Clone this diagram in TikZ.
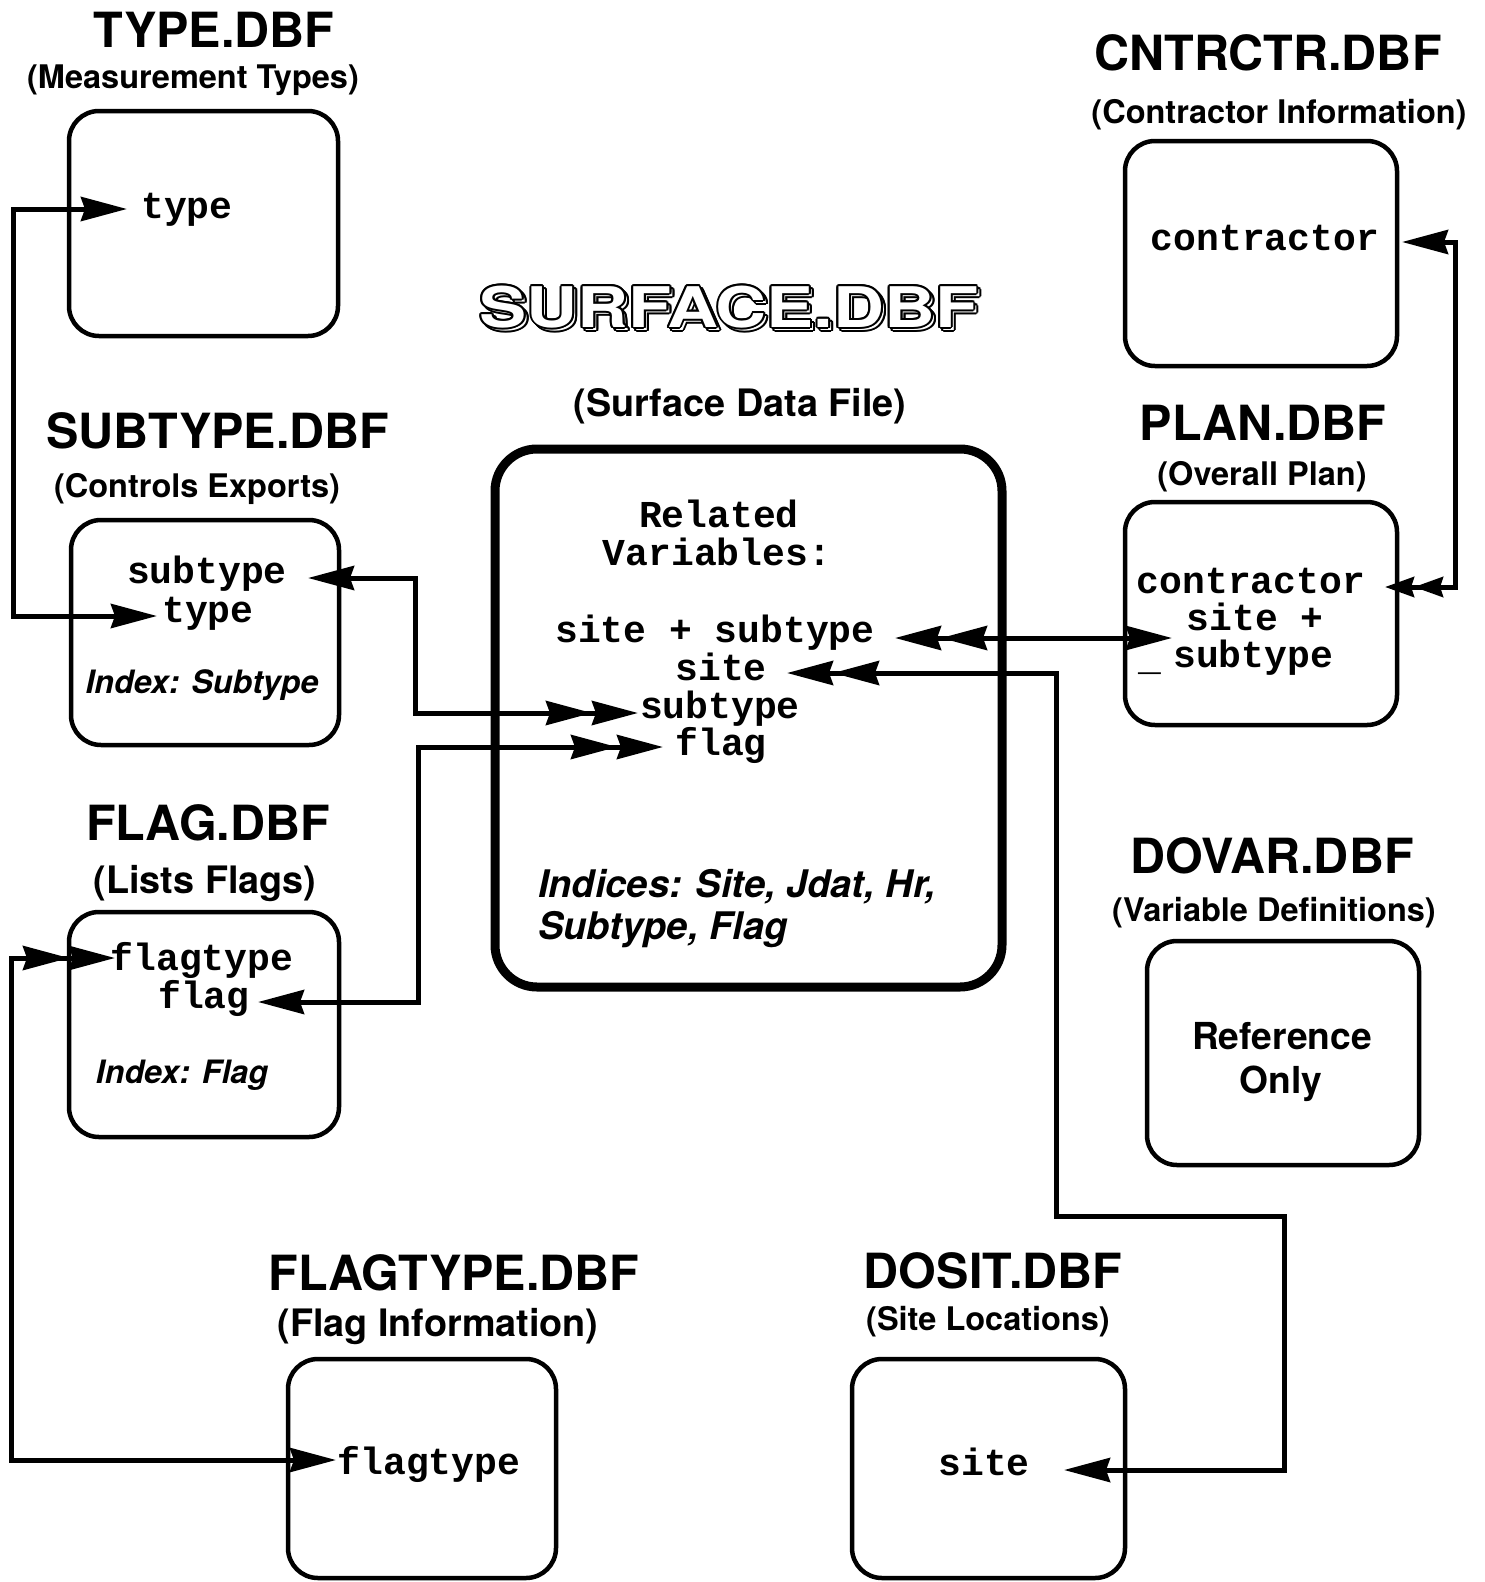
\documentclass[tikz,border=0pt]{standalone}
\usepackage{fontspec}
\usetikzlibrary{arrows.meta}
\newfontfamily\hv{TeX Gyre Heros}
\newfontfamily\hvw[FakeStretch=1.26]{TeX Gyre Heros}
\newfontfamily\cour{Liberation Mono}
\tikzset{
  hd/.tip={Stealth[length=46pt,width=24pt,inset=4pt]},
  hs/.tip={Stealth[length=29pt,width=20pt,inset=3pt]},
  lbl/.style={anchor=base, inner sep=0pt},
  ttl/.style={lbl, font=\hv\bfseries\fontsize{48.5}{50}\selectfont},
  subt/.style={lbl, font=\hv\bfseries\fontsize{32.5}{34}\selectfont},
  subL/.style={lbl, font=\hv\bfseries\fontsize{37.8}{40}\selectfont},
  mono/.style={lbl, font=\cour\bfseries\fontsize{38}{38}\selectfont},
  idx/.style={lbl, font=\hv\bfseries\itshape\fontsize{32.2}{34}\selectfont},
  idxL/.style={lbl, font=\hv\bfseries\itshape\fontsize{38}{42}\selectfont},
  refL/.style={lbl, font=\hv\bfseries\fontsize{37.2}{43}\selectfont},
  sfc/.style={lbl, font=\hvw\bfseries\fontsize{56}{58}\selectfont},
  box/.style={draw, line width=4.5pt, rounded corners=30pt, inner sep=0pt},
  bigbox/.style={draw, line width=9pt, rounded corners=42pt, inner sep=0pt},
  conn/.style={line width=5pt},
}
\begin{document}
\begin{tikzpicture}[x=1pt,y=-1pt]
\fill[white] (0,0) rectangle (1484,1582);
\useasboundingbox (0,0) rectangle (1484,1582);

% ---------- TYPE.DBF
\node[ttl] (typeT) at (214,47) {TYPE.DBF};
\node[subt] (typeS) at (193,88) {(Measurement Types)};
\node[box, minimum width=269, minimum height=225] (typeB) at (203.5,223.5) {};
\node[mono] (typeV) at (187,218) {type};

% ---------- SUBTYPE.DBF
\node[ttl] (subT) at (218,448) {SUBTYPE.DBF};
\node[subt] (subS) at (197,497) {(Controls Exports)};
\node[box, minimum width=268, minimum height=225] (subB) at (205,632.5) {};
\node[mono] (subV1) at (207,583) {subtype};
\node[mono] (subV2) at (208,622) {type};
\node[idx] (subI) at (202,693) {Index: Subtype};

% ---------- FLAG.DBF
\node[ttl] (flagT) at (208,840) {FLAG.DBF};
\node[subL] (flagS) at (205,893) {(Lists Flags)};
\node[box, minimum width=270, minimum height=225] (flagB) at (204,1024.5) {};
\node[mono] (flagV1) at (202,970) {flagtype};
\node[mono] (flagV2) at (204,1008) {flag};
\node[idx] (flagI) at (182,1083) {Index: Flag};

% ---------- FLAGTYPE.DBF
\node[ttl] (ftT) at (454,1290) {FLAGTYPE.DBF};
\node[subL] (ftS) at (438,1336) {(Flag Information)};
\node[box, minimum width=268, minimum height=219] (ftB) at (422,1468.5) {};
\node[mono] (ftV) at (429,1474) {flagtype};

% ---------- DOSIT.DBF
\node[ttl] (dsT) at (993,1288) {DOSIT.DBF};
\node[subt] (dsS) at (988,1330) {(Site Locations)};
\node[box, minimum width=273, minimum height=219] (dsB) at (988.5,1468.5) {};
\node[mono] (dsV) at (984,1475) {site};

% ---------- DOVAR.DBF
\node[ttl] (dvT) at (1272,873) {DOVAR.DBF};
\node[subt] (dvS) at (1274,921) {(Variable Definitions)};
\node[box, minimum width=272, minimum height=224] (dvB) at (1283,1053) {};
\node[refL] (dvR1) at (1282,1049) {Reference};
\node[refL] (dvR2) at (1281,1093) {Only};

% ---------- CNTRCTR.DBF
\node[ttl] (ctT) at (1268,70) {CNTRCTR.DBF};
\node[subt] (ctS) at (1279,123) {(Contractor Information)};
\node[box, minimum width=272, minimum height=225] (ctB) at (1261,253.5) {};
\node[mono] (ctV) at (1265,250) {contractor};

% ---------- PLAN.DBF
\node[ttl] (plT) at (1263,440) {PLAN.DBF};
\node[subt] (plS) at (1262,485) {(Overall Plan)};
\node[box, minimum width=272, minimum height=223] (plB) at (1261,613.5) {};
\node[mono] (plV1) at (1251,593) {contractor};
\node[mono] (plV2) at (1255,630) {site +};
\node[mono] (plV3) at (1253,667) {subtype};
\node[mono] (plU) at (1150,670) {\_};

% ---------- SURFACE.DBF (outlined letters with a shadow)
\foreach \a [count=\i] in {0,30,...,330} {
  \node[sfc, text=black, xshift={3+2*cos(\a)}, yshift={-3+2*sin(\a)}] (sfcSh\i) at (729,327) {SURFACE.DBF};
}
\node[sfc, text=white, xshift=3, yshift=-3] (sfcShW) at (729,327) {SURFACE.DBF};
\foreach \a [count=\i] in {0,30,...,330} {
  \node[sfc, text=black, xshift={2*cos(\a)}, yshift={2*sin(\a)}] (sfcO\i) at (729,327) {SURFACE.DBF};
}
\node[sfc, text=white] (sfcT) at (729,327) {SURFACE.DBF};
\node[subL] (sfcS) at (740,416) {(Surface Data File)};
\node[bigbox, minimum width=507, minimum height=538] (sfcB) at (748.5,718) {};
\node[mono] (sfV1) at (719,527) {Related};
\node[mono] (sfV2) at (717,565) {Variables:};
\node[mono] (sfV3) at (715,642) {site + subtype};
\node[mono] (sfV4) at (721,680) {site};
\node[mono] (sfV5) at (720,718) {subtype};
\node[mono] (sfV6) at (721,755) {flag};
\node[idxL, anchor=base west] (sfI1) at (538,897) {Indices: Site, Jdat, Hr,};
\node[idxL, anchor=base west] (sfI2) at (538,939) {Subtype, Flag};

% ---------- connectors
% type <-> subtype.type
\coordinate (c1a) at (127,209);
\coordinate (c1b) at (13,209);
\coordinate (c1c) at (13,616);
\coordinate (c1d) at (157,616);
\draw[conn,{hd}-{hd}] (c1a) -- (c1b) -- (c1c) -- (c1d);

% subtype -> surface.subtype
\coordinate (c2a) at (308,578);
\coordinate (c2b) at (415,578);
\coordinate (c2c) at (415,713);
\coordinate (c2d) at (638,713);
\draw[conn,{hd}-{hd[] hd[]}] (c2a) -- (c2b) -- (c2c) -- (c2d);

% flag -> surface.flag
\coordinate (c3a) at (258,1002);
\coordinate (c3b) at (418,1002);
\coordinate (c3c) at (418,747);
\coordinate (c3d) at (663,747);
\draw[conn,{hd}-{hd[] hd[]}] (c3a) -- (c3b) -- (c3c) -- (c3d);

% flagtype -> flag.flagtype
\coordinate (c4a) at (336,1460);
\coordinate (c4b) at (11,1460);
\coordinate (c4c) at (11,958);
\coordinate (c4d) at (115,958);
\draw[conn,{hd}-{hd[] hd[]}] (c4a) -- (c4b) -- (c4c) -- (c4d);

% surface.site+subtype <-> plan
\coordinate (c5a) at (895,638);
\coordinate (c5b) at (1172,638);
\draw[conn,{hd[] hd[]}-{hd}] (c5a) -- (c5b);

% surface.site <-> dosit
\coordinate (c6a) at (787,673);
\coordinate (c6b) at (1056,673);
\coordinate (c6c) at (1056,1216);
\coordinate (c6d) at (1284,1216);
\coordinate (c6e) at (1284,1470);
\coordinate (c6f) at (1064,1470);
\draw[conn,{hd[] hd[]}-{hd}] (c6a) -- (c6b) -- (c6c) -- (c6d) -- (c6e) -- (c6f);

% cntrctr <-> plan.contractor
\coordinate (c7a) at (1402,242);
\coordinate (c7b) at (1455,242);
\coordinate (c7c) at (1455,587);
\coordinate (c7d) at (1385,587);
\draw[conn,{hd}-{hs[] hs[]}] (c7a) -- (c7b) -- (c7c) -- (c7d);
\end{tikzpicture}
\end{document}
